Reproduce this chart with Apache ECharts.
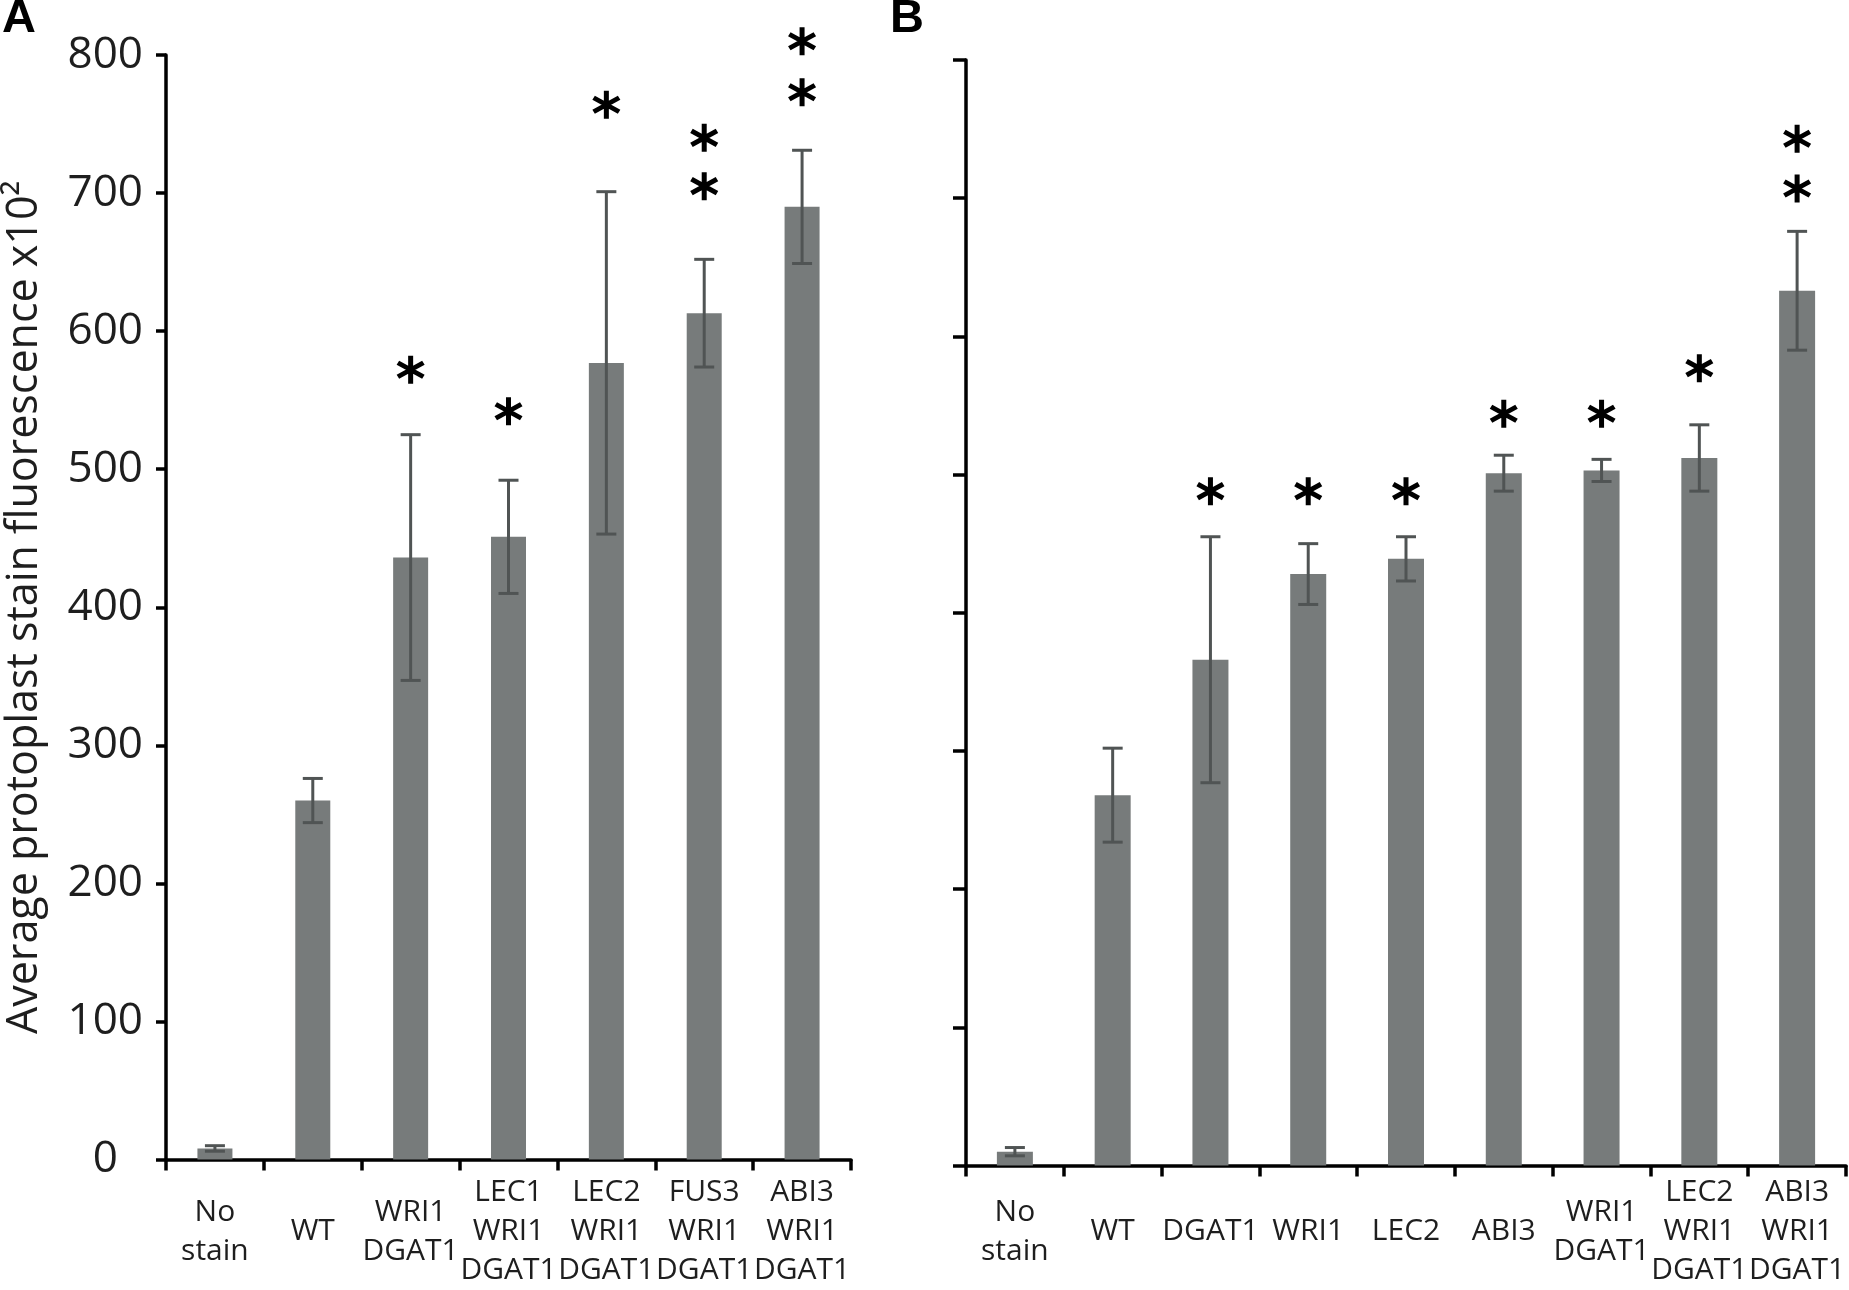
<!DOCTYPE html>
<html>
<head>
<meta charset="utf-8">
<script src="https://cdn.jsdelivr.net/npm/echarts@6/dist/echarts.min.js"></script>
<style>
html,body{margin:0;padding:0;background:#fff;}
#chart{width:1849px;height:1290px;}
</style>
</head>
<body>
<div id="chart"></div>
<script>
// ---- data ----
const categoriesA = ['No\nstain', 'WT', 'WRI1\nDGAT1', 'LEC1\nWRI1\nDGAT1', 'LEC2\nWRI1\nDGAT1', 'FUS3\nWRI1\nDGAT1', 'ABI3\nWRI1\nDGAT1'];
const valuesA = [8, 260, 436, 451, 577, 613, 690];
const errorsA = [2, 16, 89, 41, 124, 39, 41];
const starsA = [[], [], [572], [542], [764], [705, 740], [773, 810]];

const categoriesB = ['No\nstain', 'WT', 'DGAT1', 'WRI1', 'LEC2', 'ABI3', 'WRI1\nDGAT1', 'LEC2\nWRI1\nDGAT1', 'ABI3\nWRI1\nDGAT1'];
const valuesB = [10, 268, 366, 428, 439, 501, 503, 512, 633];
const errorsB = [3, 34, 89, 22, 16, 13, 8, 24, 43];
const starsB = [[], [], [488], [488], [488], [544], [544], [577], [707, 743]];

const yTickLabelsA = ['0', '100', '200', '300', '400', '500', '600', '700', '800'];
const yTitleA = 'Average protoplast stain fluorescence x10\u00B2';

// ---- styles ----
const BAR = '#777b7b';
const ERR = '#505454';
const AX = '#000';
const TXT = '#1e1e1e';
const FONT = '"Open Sans", "Noto Sans", sans-serif';
const BOLDFONT = '"Liberation Sans", Arial, sans-serif';

function starPath() {
  const L = 10, h = 1.7, c = 12;
  let s = '';
  [90, 30, 150].forEach(function (deg) {
    const t = deg * Math.PI / 180;
    const dx = Math.cos(t), dy = Math.sin(t);
    const nx = -dy, ny = dx;
    const pts = [
      [c + L * dx + h * nx, c + L * dy + h * ny],
      [c - L * dx + h * nx, c - L * dy + h * ny],
      [c - L * dx - h * nx, c - L * dy - h * ny],
      [c + L * dx - h * nx, c + L * dy - h * ny]
    ];
    s += 'M' + pts.map(p => p[0].toFixed(3) + ' ' + p[1].toFixed(3)).join(' L') + ' Z ';
  });
  return 'path://' + s;
}
const STAR = starPath();

function errData(vals, errs) {
  return vals.map((v, i) => [i, v, errs[i]]);
}
function starData(stars) {
  const out = [];
  stars.forEach((arr, i) => arr.forEach(y => out.push([i, y])));
  return out;
}
function errRender(params, api) {
  const x = api.value(0), v = api.value(1), e = api.value(2);
  const top = api.coord([x, v + e]);
  const bot = api.coord([x, v - e]);
  const hw = 10;
  const st = { stroke: ERR, lineWidth: 3 };
  return {
    type: 'group',
    children: [
      { type: 'line', shape: { x1: top[0], y1: top[1], x2: bot[0], y2: bot[1] }, style: st },
      { type: 'line', shape: { x1: top[0] - hw, y1: top[1], x2: top[0] + hw, y2: top[1] }, style: st },
      { type: 'line', shape: { x1: bot[0] - hw, y1: bot[1], x2: bot[0] + hw, y2: bot[1] }, style: st }
    ]
  };
}

function xAxisCfg(cats, idx, margin) {
  return {
    type: 'category', gridIndex: idx, data: cats,
    axisLine: { lineStyle: { color: AX, width: 3.5 } },
    axisTick: { show: true, length: 11, lineStyle: { color: AX, width: 3.5 } },
    axisLabel: { interval: 0, margin: margin, verticalAlign: 'middle', lineHeight: 39,
      fontSize: 30, color: TXT, fontFamily: FONT, align: 'center' },
    splitLine: { show: false }
  };
}

const chart = echarts.init(document.getElementById('chart'), null, { renderer: 'canvas' });
chart.setOption({
  backgroundColor: '#fff',
  animation: false,
  graphic: [
    { type: 'text', left: 2, top: -4, style: { text: 'A', fontSize: 47, fontWeight: 'bold', fill: '#000', fontFamily: BOLDFONT } },
    { type: 'text', left: 890, top: -4, style: { text: 'B', fontSize: 47, fontWeight: 'bold', fill: '#000', fontFamily: BOLDFONT } }
  ],
  grid: [
    { left: 166, top: 55, width: 685, height: 1109 },
    { left: 966, top: 60, width: 880, height: 1110 }
  ],
  xAxis: [xAxisCfg(categoriesA, 0, 72), xAxisCfg(categoriesB, 1, 66)],
  yAxis: [
    {
      type: 'value', gridIndex: 0, min: 0, max: 800, interval: 100,
      name: yTitleA, nameLocation: 'middle', nameGap: 120,
      nameTextStyle: { fontSize: 43, color: TXT, fontFamily: FONT },
      axisLine: { show: true, lineStyle: { color: AX, width: 3.5 } },
      axisTick: { show: true, length: 10, lineStyle: { color: AX, width: 3.5 } },
      axisLabel: { fontSize: 44, color: TXT, fontFamily: FONT, margin: 23,
        formatter: function (v) {
          const t = yTickLabelsA[Math.round(v / 100)];
          return v === 0 ? '{z|' + t + '}' : t;
        },
        rich: { z: { fontSize: 44, color: TXT, fontFamily: FONT, padding: [0, 25, 0, 0] } }
      },
      splitLine: { show: false }
    },
    {
      type: 'value', gridIndex: 1, min: 0, max: 800, interval: 100,
      axisLine: { show: true, lineStyle: { color: AX, width: 3.5 } },
      axisTick: { show: true, length: 13, lineStyle: { color: AX, width: 3.5 } },
      axisLabel: { show: false },
      splitLine: { show: false }
    }
  ],
  series: [
    { type: 'bar', xAxisIndex: 0, yAxisIndex: 0, data: valuesA, barWidth: 35, itemStyle: { color: BAR } },
    { type: 'custom', xAxisIndex: 0, yAxisIndex: 0, data: errData(valuesA, errorsA), renderItem: errRender, z: 5 },
    { type: 'scatter', xAxisIndex: 0, yAxisIndex: 0, data: starData(starsA), symbol: STAR, symbolSize: [28, 28], clip: false, itemStyle: { color: '#000', opacity: 1 }, z: 6 },
    { type: 'bar', xAxisIndex: 1, yAxisIndex: 1, data: valuesB, barWidth: 36, itemStyle: { color: BAR } },
    { type: 'custom', xAxisIndex: 1, yAxisIndex: 1, data: errData(valuesB, errorsB), renderItem: errRender, z: 5 },
    { type: 'scatter', xAxisIndex: 1, yAxisIndex: 1, data: starData(starsB), symbol: STAR, symbolSize: [28, 28], clip: false, itemStyle: { color: '#000', opacity: 1 }, z: 6 }
  ]
});
</script>
</body>
</html>
